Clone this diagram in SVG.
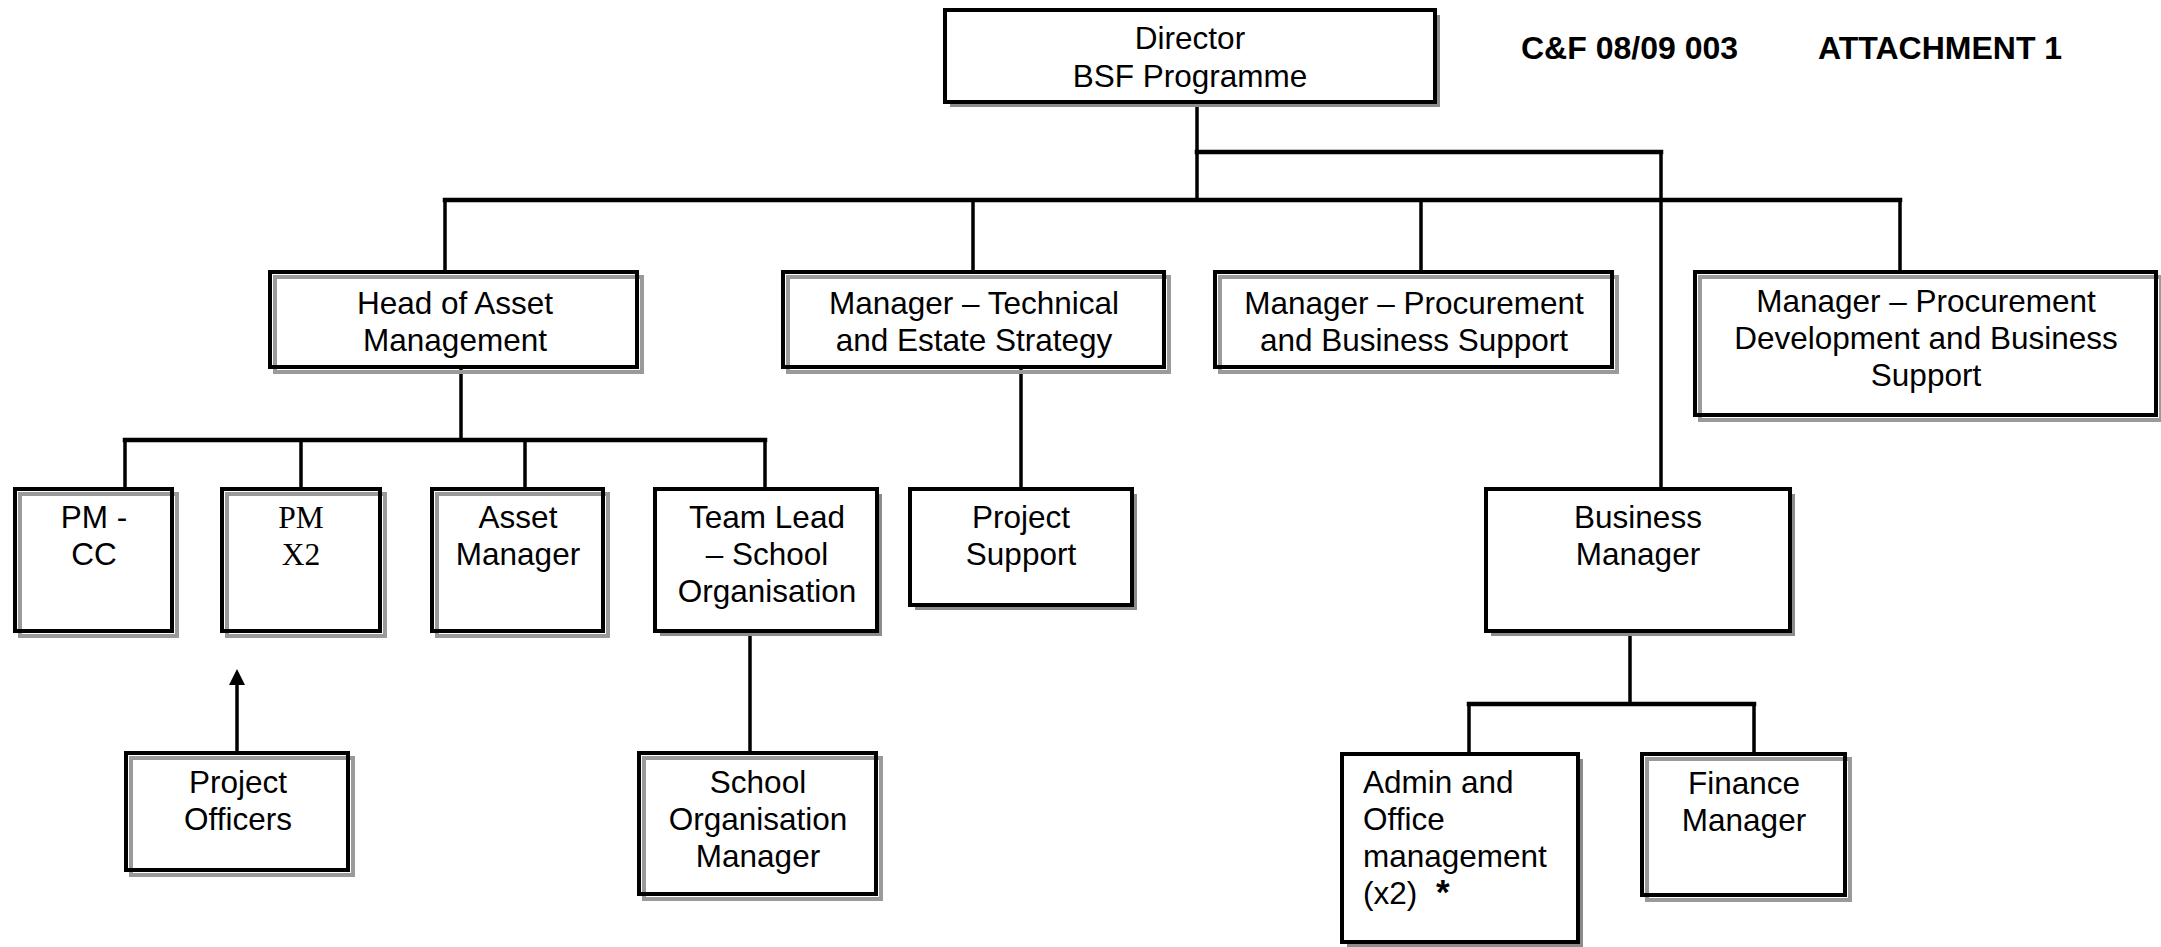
<svg xmlns="http://www.w3.org/2000/svg" width="2161" height="947" viewBox="0 0 2161 947">
<style>
  .bg{fill:#ffffff}
  .fill{fill:#ffffff;stroke:none}
  .gl{fill:none;stroke:#9a9a9a;stroke-width:4}
  .bd{fill:none;stroke:#000;stroke-width:4}
  .sh{fill:#8c8c8c}
  .bx{fill:#ffffff;stroke:#000;stroke-width:4}
  .h{fill:none;stroke:#000;stroke-width:4.5;stroke-linecap:square}
  .v{fill:none;stroke:#000;stroke-width:3.5}
  text{font-family:"Liberation Sans",Arial,sans-serif;font-size:31.5px;fill:#000}
  .c{text-anchor:middle}
  .serif{font-family:"Liberation Serif","Times New Roman",serif}
  .hdr{font-weight:bold;font-size:32px}
</style>
<defs>
  <marker id="arr" viewBox="0 0 16 16" markerWidth="16" markerHeight="16" markerUnits="userSpaceOnUse" refX="0" refY="8" orient="auto">
    <path d="M0,0 L16,8 L0,16 z" fill="#000"/>
  </marker>
</defs>
<rect class="bg" x="0" y="0" width="2161" height="947"/>

<g id="connectors">
  <path class="v" d="M1197,104 V200"/>
  <path class="h" d="M1197,152 H1661"/>
  <path class="v" d="M1661,152 V489"/>
  <path class="h" d="M445,200 H1900"/>
  <path class="v" d="M445,200 V272 M973,200 V272 M1421,200 V272 M1900,200 V272"/>
  <path class="v" d="M461,369 V440"/>
  <path class="h" d="M125,440 H765"/>
  <path class="v" d="M125,440 V489 M301,440 V489 M525,440 V489 M765,440 V489"/>
  <path class="v" d="M1021,369 V489"/>
  <path class="v" d="M750,633 V753"/>
  <path class="v" d="M1630,633 V704"/>
  <path class="h" d="M1469,704 H1754"/>
  <path class="v" d="M1469,704 V754 M1754,704 V754"/>
  <path class="v" d="M237,751 V685" marker-end="url(#arr)"/>
</g>

<g id="header">
  <text class="hdr" x="1521" y="59">C&amp;F 08/09 003</text>
  <text class="hdr" x="1818" y="59">ATTACHMENT 1</text>
</g>

<g id="director">
  <rect class="sh" x="950" y="15" width="490" height="92"/>
  <rect class="bx" x="945" y="10" width="490" height="92"/>
  <text class="c" x="1190" y="49">Director</text>
  <text class="c" x="1190" y="87">BSF Programme</text>
</g>

<g id="head-asset">
  <rect class="fill" x="270" y="272" width="367" height="95"/>
  <rect class="gl" x="275" y="277" width="367" height="95"/>
  <rect class="bd" x="270" y="272" width="367" height="95"/>
  <text class="c" x="455" y="314">Head of Asset</text>
  <text class="c" x="455" y="351">Management</text>
</g>

<g id="mgr-technical">
  <rect class="fill" x="783" y="272" width="381" height="95"/>
  <rect class="gl" x="788" y="277" width="381" height="95"/>
  <rect class="bd" x="783" y="272" width="381" height="95"/>
  <text class="c" x="974" y="314">Manager – Technical</text>
  <text class="c" x="974" y="351">and Estate Strategy</text>
</g>

<g id="mgr-procurement">
  <rect class="fill" x="1215" y="272" width="397" height="95"/>
  <rect class="gl" x="1220" y="277" width="397" height="95"/>
  <rect class="bd" x="1215" y="272" width="397" height="95"/>
  <text class="c" x="1414" y="314">Manager – Procurement</text>
  <text class="c" x="1414" y="351">and Business Support</text>
</g>

<g id="mgr-proc-dev">
  <rect class="fill" x="1695" y="272" width="461" height="143"/>
  <rect class="gl" x="1700" y="277" width="461" height="143"/>
  <rect class="bd" x="1695" y="272" width="461" height="143"/>
  <text class="c" x="1926" y="312">Manager – Procurement</text>
  <text class="c" x="1926" y="349">Development and Business</text>
  <text class="c" x="1926" y="386">Support</text>
</g>

<g id="pm-cc">
  <rect class="fill" x="15" y="489" width="157" height="142"/>
  <rect class="gl" x="20" y="494" width="157" height="142"/>
  <rect class="bd" x="15" y="489" width="157" height="142"/>
  <text class="c" x="94" y="528">PM -</text>
  <text class="c" x="94" y="565">CC</text>
</g>

<g id="pm-x2">
  <rect class="fill" x="222" y="489" width="158" height="142"/>
  <rect class="gl" x="227" y="494" width="158" height="142"/>
  <rect class="bd" x="222" y="489" width="158" height="142"/>
  <text class="c serif" x="301" y="528">PM</text>
  <text class="c serif" x="301" y="565">X2</text>
</g>

<g id="asset-manager">
  <rect class="fill" x="432" y="489" width="171" height="142"/>
  <rect class="gl" x="437" y="494" width="171" height="142"/>
  <rect class="bd" x="432" y="489" width="171" height="142"/>
  <text class="c" x="518" y="528">Asset</text>
  <text class="c" x="518" y="565">Manager</text>
</g>

<g id="team-lead">
  <rect class="sh" x="660" y="494" width="222" height="142"/>
  <rect class="bx" x="655" y="489" width="222" height="142"/>
  <text class="c" x="767" y="528">Team Lead</text>
  <text class="c" x="767" y="565">– School</text>
  <text class="c" x="767" y="602">Organisation</text>
</g>

<g id="project-support">
  <rect class="sh" x="915" y="494" width="222" height="116"/>
  <rect class="bx" x="910" y="489" width="222" height="116"/>
  <text class="c" x="1021" y="528">Project</text>
  <text class="c" x="1021" y="565">Support</text>
</g>

<g id="business-manager">
  <rect class="sh" x="1491" y="494" width="304" height="142"/>
  <rect class="bx" x="1486" y="489" width="304" height="142"/>
  <text class="c" x="1638" y="528">Business</text>
  <text class="c" x="1638" y="565">Manager</text>
</g>

<g id="project-officers">
  <rect class="fill" x="126" y="753" width="222" height="117"/>
  <rect class="gl" x="131" y="758" width="222" height="117"/>
  <rect class="bd" x="126" y="753" width="222" height="117"/>
  <text class="c" x="238" y="793">Project</text>
  <text class="c" x="238" y="830">Officers</text>
</g>

<g id="school-org-manager">
  <rect class="fill" x="639" y="753" width="237" height="141"/>
  <rect class="gl" x="644" y="758" width="237" height="141"/>
  <rect class="bd" x="639" y="753" width="237" height="141"/>
  <text class="c" x="758" y="793">School</text>
  <text class="c" x="758" y="830">Organisation</text>
  <text class="c" x="758" y="867">Manager</text>
</g>

<g id="admin-office">
  <rect class="sh" x="1347" y="759" width="236" height="188"/>
  <rect class="bx" x="1342" y="754" width="236" height="188"/>
  <text x="1363" y="793">Admin and</text>
  <text x="1363" y="830">Office</text>
  <text x="1363" y="867">management</text>
  <text x="1363" y="904">(x2)<tspan x="1436" font-weight="bold" font-size="35px">*</tspan></text>
</g>

<g id="finance-manager">
  <rect class="fill" x="1642" y="754" width="203" height="141"/>
  <rect class="gl" x="1647" y="759" width="203" height="141"/>
  <rect class="bd" x="1642" y="754" width="203" height="141"/>
  <text class="c" x="1744" y="794">Finance</text>
  <text class="c" x="1744" y="831">Manager</text>
</g>
</svg>
